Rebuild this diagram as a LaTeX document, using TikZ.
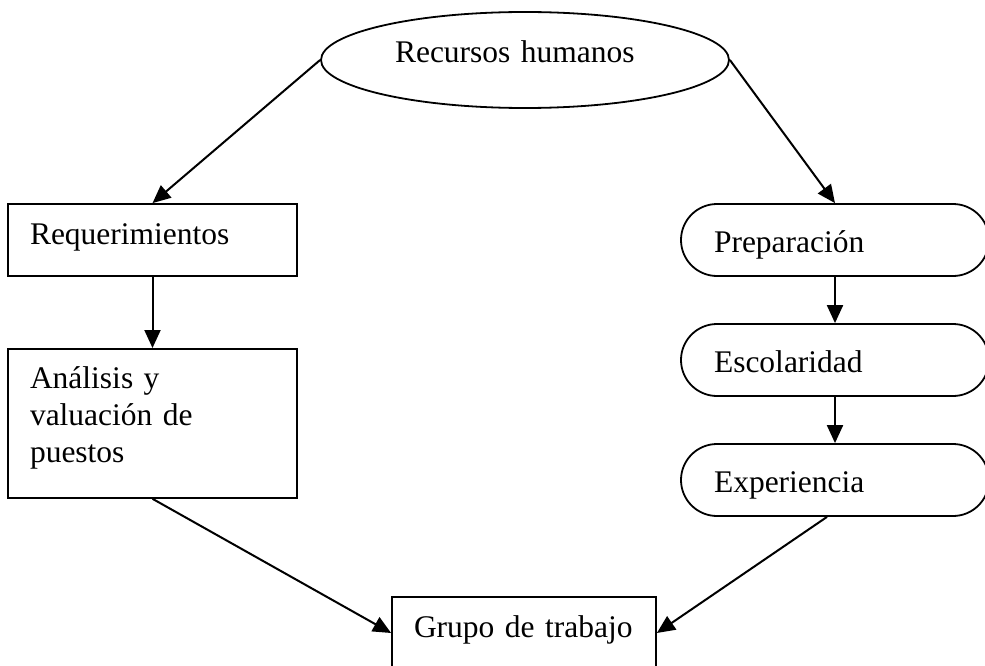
\documentclass[tikz,border=0pt]{standalone}
\usepackage{fontspec}
\setmainfont{Liberation Serif}
\usetikzlibrary{arrows.meta,shapes.geometric}

\tikzset{
  caja/.style={draw, rectangle, line width=1.8pt, minimum height=72pt,
    inner xsep=22pt, inner ysep=0pt, align=left,
    text height=21pt, text depth=12pt},
  capsula/.style={draw, rectangle, rounded corners=36pt, line width=1.8pt,
    minimum width=308pt, minimum height=72pt, inner xsep=33pt, inner ysep=0pt,
    text width=242pt, align=left, text height=24pt, text depth=0pt},
  flecha/.style={line width=2pt, -{Triangle[length=18pt,width=16pt]}}
}

\begin{document}
\begin{tikzpicture}[x=1pt,y=-1pt]
\fontsize{31.5}{37}\selectfont
\useasboundingbox (0,0) rectangle (985,666);
\clip (0,0) rectangle (985,666);

\node[draw, ellipse, line width=1.8pt, minimum width=408pt, minimum height=96pt,
  inner sep=0pt, text width=260pt, align=left, text height=21pt, text depth=15pt]
  (recursos) at (525,60) {Recursos humanos};

\node[caja, text width=245pt] (requer) at (152.5,240) {Requerimientos};
\node[caja, text width=245pt, text height=40pt, text depth=109pt, anchor=north]
  (analisis) at (152.5,348) {Análisis y\\valuación de\\puestos};

\node[capsula] (prep) at (835,240) {Preparación};
\node[capsula] (escol) at (835,360) {Escolaridad};
\node[capsula] (exper) at (835,480) {Experiencia};

\node[caja, text width=220pt] (grupo) at (524,633) {Grupo de trabajo};

\draw[flecha] (recursos.west) -- (requer.north);
\draw[flecha] (recursos.east) -- (prep.north);
\draw[flecha] (requer.south) -- (analisis.north);
\draw[flecha] (prep.south) -- (escol.north);
\draw[flecha] (escol.south) -- (exper.north);
\draw[flecha] (analisis.south) -- (grupo.west);
\draw[flecha] ([xshift=-8pt]exper.south) -- (grupo.east);
\end{tikzpicture}
\end{document}
